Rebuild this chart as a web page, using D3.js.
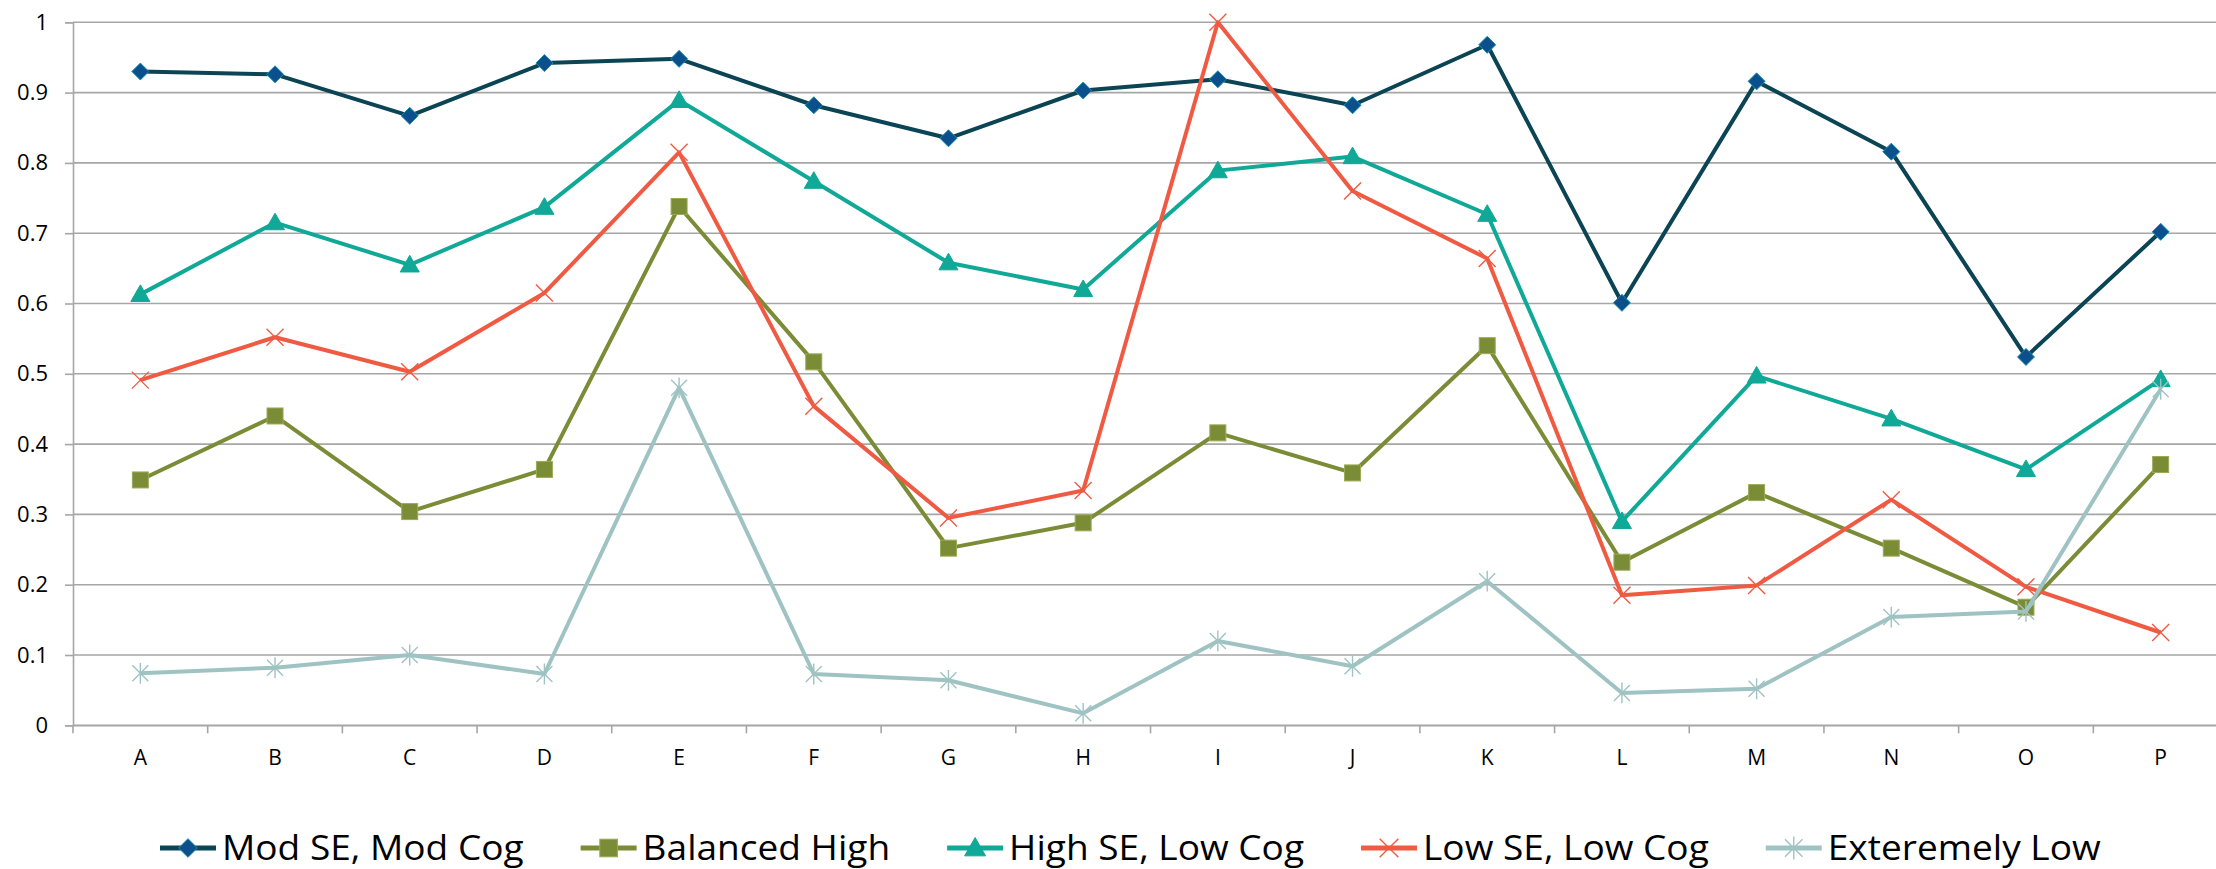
<!DOCTYPE html>
<html><head><meta charset="utf-8">
<script src="https://cdn.jsdelivr.net/npm/d3@7"></script>
<style>
html,body{margin:0;padding:0;background:#fff;}
svg{display:block;}
text{font-family:"Open Sans","Noto Sans",sans-serif;fill:#000;}
</style></head>
<body>
<svg id="chart" width="2216" height="869"></svg>
<script>
const categories = ["A","B","C","D","E","F","G","H","I","J","K","L","M","N","O","P"];
const seriesNames = ["Mod SE, Mod Cog","Balanced High","High SE, Low Cog","Low SE, Low Cog","Exteremely Low"];
const modSE      = [0.930,0.926,0.867,0.942,0.948,0.882,0.835,0.903,0.919,0.882,0.968,0.601,0.916,0.816,0.524,0.702];
const balanced   = [0.349,0.440,0.304,0.364,0.738,0.517,0.252,0.288,0.416,0.359,0.540,0.232,0.331,0.252,0.168,0.371];
const highSE     = [0.613,0.715,0.655,0.737,0.889,0.774,0.658,0.620,0.789,0.809,0.727,0.290,0.497,0.436,0.364,0.492];
const lowSE      = [0.491,0.552,0.503,0.615,0.815,0.454,0.295,0.334,1.000,0.760,0.664,0.185,0.199,0.321,0.197,0.132];
const extLow     = [0.074,0.082,0.100,0.073,0.480,0.073,0.064,0.017,0.120,0.084,0.205,0.046,0.052,0.154,0.162,0.478];
const yTicks = [0,0.1,0.2,0.3,0.4,0.5,0.6,0.7,0.8,0.9,1];

const series = [
  {name:seriesNames[0], values:modSE,    line:"#0b4454", fill:"#0b4f8c", stroke:"#1a8fa8", marker:"diamond"},
  {name:seriesNames[1], values:balanced, line:"#7a8c36", fill:"#7a8c36", stroke:"#9aab55", marker:"square"},
  {name:seriesNames[2], values:highSE,   line:"#10a897", fill:"#10a897", stroke:"#10a897", marker:"triangle"},
  {name:seriesNames[3], values:lowSE,    line:"#f05a43", fill:"none",    stroke:"#f05a43", marker:"x"},
  {name:seriesNames[4], values:extLow,   line:"#9fc3c3", fill:"none",    stroke:"#9fc3c3", marker:"star"}
];

const svg = d3.select("#chart");
const plotLeft = 73, plotRight = 2228, plotTop = 22.3, plotBottom = 725.3;

const x = d3.scaleBand().domain(categories).range([plotLeft, plotRight]).paddingInner(0).paddingOuter(0);
const y = d3.scaleLinear().domain([0,1]).range([plotBottom, plotTop]);

// gridlines
svg.append("g").selectAll("line").data(yTicks).join("line")
  .attr("x1", plotLeft).attr("x2", plotRight)
  .attr("y1", d=>y(d)).attr("y2", d=>y(d))
  .attr("stroke", "#a6a6a6").attr("stroke-width", 1.6);

// y axis
const yAxis = svg.append("g").attr("transform",`translate(${plotLeft},0)`)
  .call(d3.axisLeft(y).tickValues(yTicks).tickSize(8).tickPadding(17).tickFormat(d=>d3.format("")(d)));
yAxis.select(".domain").attr("stroke","#a6a6a6").attr("stroke-width",1.6);
yAxis.selectAll(".tick line").attr("stroke","#a6a6a6").attr("stroke-width",1.6);
yAxis.selectAll(".tick text").style("font-size","22px").attr("fill","#000");

// x axis
const xAxis = svg.append("g").attr("transform",`translate(0,${plotBottom})`)
  .call(d3.axisBottom(x).tickSize(0).tickPadding(25));
xAxis.select(".domain").attr("stroke","#a6a6a6").attr("stroke-width",1.6);
xAxis.selectAll(".tick text").style("font-size","21px").attr("fill","#000");
// category boundary ticks
const bounds = categories.map(c=>x(c)).concat([plotRight]);
svg.append("g").selectAll("line").data(bounds).join("line")
  .attr("x1",d=>d).attr("x2",d=>d).attr("y1",plotBottom).attr("y2",plotBottom+8)
  .attr("stroke","#a6a6a6").attr("stroke-width",1.6);

const cx = c => x(c) + x.bandwidth()/2;

function drawMarker(g, s, px, py, scale) {
  scale = scale || 1;
  if (s.marker === "diamond") {
    const r = 8.5*scale;
    g.append("path").attr("d",`M${px},${py-r}L${px+r},${py}L${px},${py+r}L${px-r},${py}Z`)
      .attr("fill",s.fill).attr("stroke",s.stroke).attr("stroke-width",1);
  } else if (s.marker === "square") {
    const r = 8*scale;
    g.append("rect").attr("x",px-r).attr("y",py-r).attr("width",2*r).attr("height",2*r)
      .attr("fill",s.fill).attr("stroke",s.stroke).attr("stroke-width",1);
  } else if (s.marker === "triangle") {
    const r = 9.5*scale;
    g.append("path").attr("d",`M${px},${py-r}L${px+r},${py+r*0.75}L${px-r},${py+r*0.75}Z`)
      .attr("fill",s.fill).attr("stroke",s.stroke).attr("stroke-width",1);
  } else if (s.marker === "x") {
    const r = 8.5*scale;
    g.append("path").attr("d",`M${px-r},${py-r}L${px+r},${py+r}M${px+r},${py-r}L${px-r},${py+r}`)
      .attr("fill","none").attr("stroke",s.stroke).attr("stroke-width",1.4);
  } else if (s.marker === "star") {
    const r = 8*scale;
    g.append("path").attr("d",`M${px-r},${py-r}L${px+r},${py+r}M${px+r},${py-r}L${px-r},${py+r}M${px},${py-r*1.3}L${px},${py+r*1.3}`)
      .attr("fill","none").attr("stroke",s.stroke).attr("stroke-width",1.4);
  }
}

const lineGen = d3.line().x((d,i)=>cx(categories[i])).y(d=>y(d));

series.forEach(s=>{
  const g = svg.append("g");
  g.append("path").datum(s.values).attr("d",lineGen)
    .attr("fill","none").attr("stroke",s.line).attr("stroke-width",4).attr("stroke-linejoin","round");
  s.values.forEach((v,i)=>drawMarker(g, s, cx(categories[i]), y(v)));
});

// legend
const legend = svg.append("g");
const legY = 848;
const symW = 56, gapText = 6, gapItem = 57, stretch = 1.09;
const items = series.map(s=>{
  const g = legend.append("g");
  g.append("line").attr("x1",0).attr("x2",symW).attr("y1",legY).attr("y2",legY)
    .attr("stroke",s.line).attr("stroke-width",5);
  drawMarker(g, s, symW/2, legY, 1.1);
  const t = g.append("text").attr("transform",`translate(${symW+gapText},${legY+12}) scale(${stretch},1)`)
    .style("font-size","34px").text(s.name);
  return {g, w: symW+gapText+t.node().getComputedTextLength()*stretch};
});
let pos = 160;
items.forEach(it=>{ it.g.attr("transform",`translate(${pos},0)`); pos += it.w + gapItem; });
</script>
</body></html>
